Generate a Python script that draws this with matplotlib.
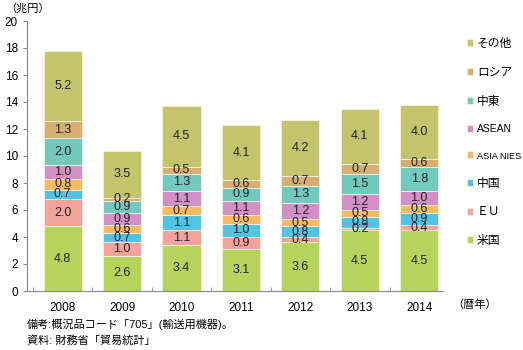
import matplotlib
matplotlib.use('Agg')
import matplotlib.pyplot as plt
import numpy as np

plt.rcParams['font.family'] = ['Liberation Sans', 'Noto Sans CJK JP']

years = ['2008', '2009', '2010', '2011', '2012', '2013', '2014']
regions = ['米国', 'ＥＵ', '中国', 'ASIA NIES', 'ASEAN', '中東', 'ロシア', 'その他']
usa = [4.8, 2.6, 3.4, 3.1, 3.6, 4.5, 4.5]
eu = [2.0, 1.0, 1.1, 0.9, 0.4, 0.2, 0.4]
china = [0.7, 0.7, 1.1, 1.0, 0.8, 0.8, 0.9]
nies = [0.8, 0.6, 0.7, 0.6, 0.5, 0.5, 0.6]
asean = [1.0, 0.9, 1.1, 1.1, 1.2, 1.2, 1.0]
mideast = [2.0, 0.9, 1.3, 0.9, 1.3, 1.5, 1.8]
russia = [1.3, 0.2, 0.5, 0.6, 0.7, 0.7, 0.6]
other = [5.2, 3.5, 4.5, 4.1, 4.2, 4.1, 4.0]

series = [usa, eu, china, nies, asean, mideast, russia, other]
colors = ['#b6d45c', '#f4a29c', '#52c3e2', '#f9bb5e', '#d290c6', '#72c9be', '#d8ae72', '#c4c46c']

fig = plt.figure(figsize=(5.23, 3.5), dpi=100)
ax = fig.add_axes([27/523, 59/350, 416/523, 270/350])

x = np.arange(len(years))
bottom = np.zeros(len(years))
handles = []
for name, vals, c in zip(regions, series, colors):
    vals = np.array(vals)
    b = ax.bar(x, vals, 0.64, bottom=bottom, color=c, edgecolor='#f3f3e0',
               linewidth=0.6, label=name)
    handles.append(b)
    for xi, v, bt in zip(x, vals, bottom):
        ax.text(xi, bt + v / 2, f'{v:.1f}', ha='center', va='center',
                fontsize=9, color='#222222')
    bottom += vals

ax.set_xlim(-0.6, 6.4)
ax.set_ylim(0, 20)
ax.set_yticks(range(0, 21, 2))
ax.set_xticks(x)
ax.set_xticklabels(years)
ax.set_xticks(np.arange(-0.5, 6.5, 1), minor=True)
ax.tick_params(axis='x', which='major', length=0, pad=8, labelsize=8.5)
ax.tick_params(axis='x', which='minor', length=3, direction='in', color='#888888')
ax.tick_params(axis='y', length=3, direction='out', labelsize=8.5, color='#888888')
for s in ['top', 'right']:
    ax.spines[s].set_visible(False)
ax.spines['left'].set_color('#888888')
ax.spines['bottom'].set_color('#888888')

leg = fig.legend(handles[::-1], regions[::-1], loc='upper left',
                 bbox_to_anchor=(467/523, 1 - 38/350), frameon=False,
                 borderpad=0, borderaxespad=0,
                 fontsize=8.5, handlelength=0.55, handleheight=0.55,
                 labelspacing=1.42, handletextpad=0.3)
# latin labels in the reference are narrower than Liberation Sans
for t in leg.get_texts():
    if t.get_text() == 'ASIA NIES':
        t.set_fontsize(6.6)
    elif t.get_text() == 'ASEAN':
        t.set_fontsize(7.5)

fig.text(5/523, 1 - 8/350, '（兆円）', fontsize=8, va='center', ha='left')
fig.text(452/523, 1 - 305/350, '（暦年）', fontsize=8, va='center', ha='left')
fig.text(27/523, 1 - 324/350, '備考:概況品コード「705」(輸送用機器)。', fontsize=8, va='center', ha='left')
fig.text(27/523, 1 - 341/350, '資料: 財務省「貿易統計」', fontsize=8, va='center', ha='left')

fig.savefig('out.png', dpi=100, facecolor='white')
